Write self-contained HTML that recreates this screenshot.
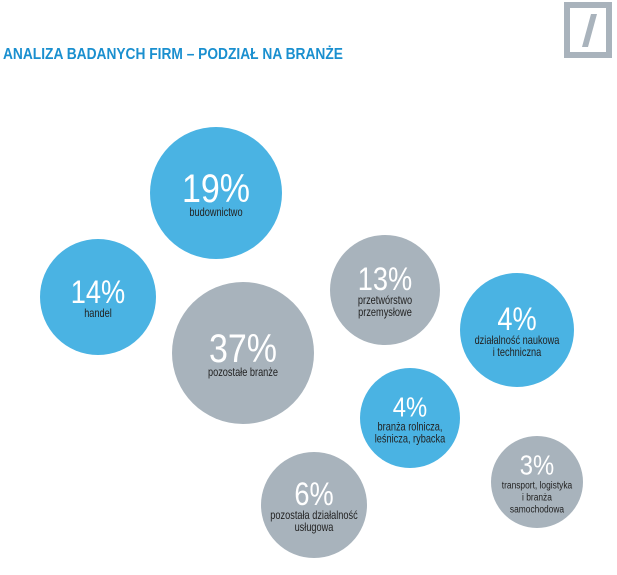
<!DOCTYPE html>
<html><head><meta charset="utf-8"><style>
body{margin:0;width:617px;height:575px;background:#fff;overflow:hidden;font-family:"Liberation Sans",sans-serif}
#title{position:absolute;left:3px;top:46px;font-weight:bold;font-size:16px;color:#1a8fcf;white-space:nowrap;transform:scaleX(0.86);transform-origin:left top}
</style></head><body>
<div id="title">ANALIZA BADANYCH FIRM – PODZIAŁ NA BRANŻE</div>
<svg width="617" height="575" style="position:absolute;left:0;top:0" id="chart">
<g>
<rect x="567" y="5" width="42" height="50" fill="none" stroke="#a9b3bc" stroke-width="6"/>
<polygon points="582,47 588,47 597,14 591,14" fill="#a9b3bc"/>
</g>
</svg>
<script>
const values=[19,14,37,13,4,4,3,6];
const labels=[["budownictwo"],["handel"],["pozostałe branże"],["przetwórstwo","przemysłowe"],["działalność naukowa","i techniczna"],["branża rolnicza,","leśnicza, rybacka"],["transport, logistyka","i branża","samochodowa"],["pozostała działalność","usługowa"]];
const colorKeys=["b","b","g","g","b","b","g","g"];
const layout=[[216,193,66],[98,297,58],[243,353,71],[385,290,55],[517,330,57],[410,418,50],[537,482,46],[314,505,53]];
const col={b:"#4ab3e3",g:"#a8b3bc"};
const svg=document.getElementById('chart');
const NS="http://www.w3.org/2000/svg";
values.forEach((v,i)=>{
 const [cx,cy,r]=layout[i];
 const g=document.createElementNS(NS,'g');
 
 
 const c=document.createElementNS(NS,'circle');
 c.setAttribute('cx',cx);c.setAttribute('cy',cy);c.setAttribute('r',r);c.setAttribute('fill',col[colorKeys[i]]);
 
 
 g.appendChild(c);
 const big=r>65?40:(r>52?32:28);
 const n=labels[i].length;
 const top=cy-(big*0.75+n*12)/2+big*0.75;
 const t=document.createElementNS(NS,'text');
 t.setAttribute('x',cx);t.setAttribute('y',top);t.setAttribute('text-anchor','middle');
 t.setAttribute('fill','#fff');t.setAttribute('font-size',big);t.setAttribute('font-family','"Liberation Sans",sans-serif');
 t.setAttribute('transform',`translate(${cx} 0) scale(0.85 1) translate(${-cx} 0)`);
 t.textContent=v+'%';
 
 
 g.appendChild(t);
 labels[i].forEach((l,j)=>{
  const s=document.createElementNS(NS,'text');
  s.setAttribute('x',cx);s.setAttribute('y',top+14+j*12);s.setAttribute('text-anchor','middle');
  s.setAttribute('fill','#222');s.setAttribute('font-size',r<50?10.5:11.5);s.setAttribute('font-family','"Liberation Sans",sans-serif');
  s.setAttribute('transform',`translate(${cx} 0) scale(0.8 1) translate(${-cx} 0)`);
  s.textContent=l;
  
  
  g.appendChild(s);
 });
 svg.appendChild(g);
});
</script>
</body></html>
